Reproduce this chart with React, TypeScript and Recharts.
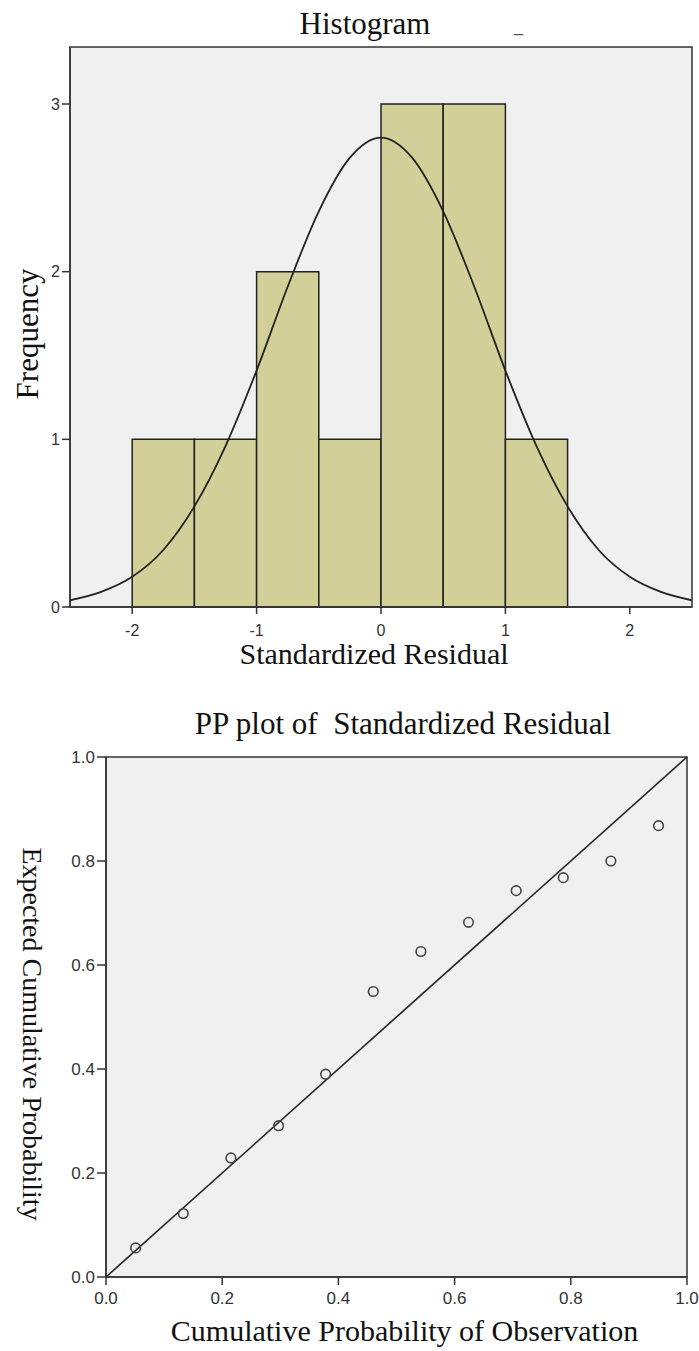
import React from "react"
import {
  ComposedChart,
  ScatterChart,
  XAxis,
  YAxis,
  Line,
  Scatter,
  ReferenceArea,
  ReferenceLine,
  CartesianGrid,
} from "recharts"

// histogram bins (standardized residual) and their counts
const binEdges = [-2, -1.5, -1, -0.5, 0, 0.5, 1, 1.5]
const binCounts = [1, 1, 2, 1, 3, 3, 1]
const histXTicks = [-2, -1, 0, 1, 2]
const histYTicks = [0, 1, 2, 3]

// normal curve
const curveX = [-2.5, -2.25, -2, -1.75, -1.5, -1.25, -1, -0.75, -0.5, -0.25, 0, 0.25, 0.5, 0.75, 1, 1.25, 1.5, 1.75, 2, 2.25, 2.5]
const curveY = [0.04, 0.09, 0.18, 0.34, 0.6, 0.96, 1.41, 1.91, 2.36, 2.68, 2.8, 2.68, 2.36, 1.91, 1.41, 0.96, 0.6, 0.34, 0.18, 0.09, 0.04]

// PP plot points
const observedProb = [0.051, 0.133, 0.215, 0.297, 0.378, 0.46, 0.542, 0.624, 0.706, 0.787, 0.869, 0.951]
const expectedProb = [0.056, 0.122, 0.229, 0.291, 0.39, 0.549, 0.626, 0.682, 0.743, 0.768, 0.8, 0.868]
const ppTicks = [0, 0.2, 0.4, 0.6, 0.8, 1]

const SERIF = "'Liberation Serif', 'Times New Roman', serif"
const SANS = "'Liberation Sans', Arial, sans-serif"
const INK = "#333"

const curveData = curveX.map((x, i) => ({ x, y: curveY[i] }))
const ppData = observedProb.map((x, i) => ({ x, y: expectedProb[i] }))

// tick label renderers (size set here so it sticks)
function tickRenderer(size: number, side: "x" | "y", fmt: (v: number) => string) {
  return (p: any) => (
    <text
      x={p.x}
      y={p.y}
      dy={side === "x" ? "0.72em" : "0.36em"}
      textAnchor={side === "x" ? "middle" : "end"}
      style={{ fontSize: size, fontFamily: SANS, fill: INK }}
    >
      {fmt(p.payload.value)}
    </text>
  )
}

// axis title drawn from the axis viewBox
function axisTitle(text: string, opts: { angle?: number; dx?: number; dy?: number; cx?: number; base?: number; size?: number }) {
  return (props: any) => {
    const vb = props.viewBox || {}
    const size = opts.size ?? 31
    if (opts.angle) {
      const x = opts.cx ?? 0
      const y = vb.y + vb.height / 2 + (opts.dy ?? 0)
      return (
        <text
          x={x}
          y={y}
          textAnchor="middle"
          dominantBaseline="central"
          transform={`rotate(${opts.angle}, ${x}, ${y})`}
          style={{ fontFamily: SERIF, fontSize: size, fill: "#111" }}
        >
          {text}
        </text>
      )
    }
    const x = vb.x + vb.width / 2 + (opts.dx ?? 0)
    const y = vb.y + (opts.base ?? 0)
    return (
      <text x={x} y={y} textAnchor="middle" style={{ fontFamily: SERIF, fontSize: size, fill: "#111" }}>
        {text}
      </text>
    )
  }
}

const titleStyle: React.CSSProperties = {
  position: "absolute",
  fontFamily: SERIF,
  fontSize: 31,
  lineHeight: "31px",
  whiteSpace: "pre",
  transform: "translateX(-50%)",
  color: "#111",
}

const intFmt = (v: number) => String(v)
const decFmt = (v: number) => v.toFixed(1)

function Histogram() {
  return (
    <div style={{ position: "absolute", left: 0, top: 0, width: 699, height: 690 }}>
      <div style={{ ...titleStyle, left: 365, top: 8 }}>Histogram</div>
      <div style={{ position: "absolute", left: 514, top: 18, fontFamily: SANS, fontSize: 16, color: "#555" }}>_</div>
      <ComposedChart width={699} height={690} margin={{ top: 47, right: 7, bottom: 23, left: 0 }}>
        <CartesianGrid fill="#f0f0f0" horizontal={false} vertical={false} />
        <XAxis
          dataKey="x"
          type="number"
          domain={[-2.5, 2.5]}
          ticks={histXTicks}
          allowDataOverflow
          height={60}
          tickSize={7}
          tickMargin={10}
          stroke={INK}
          strokeWidth={1.5}
          tick={tickRenderer(16, "x", intFmt)}
          label={axisTitle("Standardized Residual", { dx: -7, base: 57, size: 30 })}
        />
        <YAxis
          type="number"
          domain={[0, 3.34]}
          ticks={histYTicks}
          allowDataOverflow
          width={70}
          tickSize={8}
          tickMargin={2}
          stroke={INK}
          strokeWidth={1.5}
          tick={tickRenderer(16, "y", intFmt)}
          label={axisTitle("Frequency", { angle: -90, cx: 27, dy: 7 })}
        />
        {binCounts.map((c, i) => (
          <ReferenceArea
            key={i}
            x1={binEdges[i]}
            x2={binEdges[i + 1]}
            y1={0}
            y2={c}
            fill="#d3cf98"
            fillOpacity={1}
            stroke="#222"
            strokeWidth={1.5}
          />
        ))}
        <Line
          data={curveData}
          dataKey="y"
          type="monotone"
          stroke="#222"
          strokeWidth={1.8}
          dot={false}
          isAnimationActive={false}
        />
        <ReferenceArea x1={-2.5} x2={2.5} y1={0} y2={3.34} fill="none" stroke={INK} strokeWidth={1.5} />
      </ComposedChart>
    </div>
  )
}

function PPPlot() {
  return (
    <div style={{ position: "absolute", left: 0, top: 690, width: 699, height: 661 }}>
      <div style={{ ...titleStyle, left: 403, top: 18 }}>PP plot of  Standardized Residual</div>
      <ScatterChart width={699} height={661} margin={{ top: 67, right: 12, bottom: 4, left: 0 }}>
        <CartesianGrid fill="#f0f0f0" horizontal={false} vertical={false} />
        <XAxis
          dataKey="x"
          type="number"
          domain={[0, 1]}
          ticks={ppTicks}
          height={70}
          tickSize={8}
          tickMargin={7}
          stroke={INK}
          strokeWidth={1.5}
          tick={tickRenderer(17, "x", decFmt)}
          label={axisTitle("Cumulative Probability of Observation", { dx: 8, base: 64, size: 30 })}
        />
        <YAxis
          dataKey="y"
          type="number"
          domain={[0, 1]}
          ticks={ppTicks}
          width={106}
          tickSize={9}
          tickMargin={2}
          stroke={INK}
          strokeWidth={1.5}
          tick={tickRenderer(17, "y", decFmt)}
          label={axisTitle("Expected Cumulative Probability", { angle: 90, cx: 32, dy: 17, size: 28 })}
        />
        <ReferenceLine
          segment={[
            { x: 0, y: 0 },
            { x: 1, y: 1 },
          ]}
          stroke="#222"
          strokeWidth={1.6}
        />
        <Scatter
          data={ppData}
          isAnimationActive={false}
          shape={(p: any) => <circle cx={p.cx} cy={p.cy} r={4.8} fill="none" stroke="#444" strokeWidth={1.6} />}
        />
        <ReferenceArea x1={0} x2={1} y1={0} y2={1} fill="none" stroke={INK} strokeWidth={1.5} />
      </ScatterChart>
    </div>
  )
}

export default function App() {
  return (
    <div style={{ position: "absolute", left: 0, top: 0, width: 699, height: 1351, background: "#fff" }}>
      <Histogram />
      <PPPlot />
    </div>
  )
}
